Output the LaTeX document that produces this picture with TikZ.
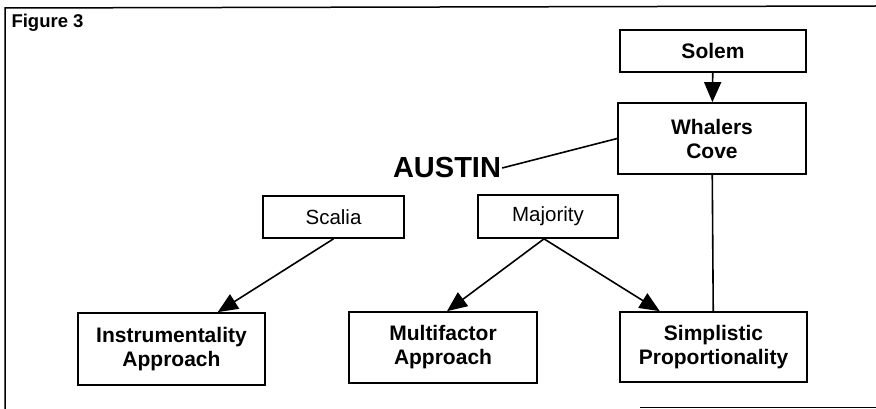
\documentclass[tikz,border=0pt]{standalone}
\usepackage{fontspec}
\setmainfont{Liberation Sans}
\usetikzlibrary{arrows.meta,positioning,calc}

\begin{document}
\begin{tikzpicture}[
  x=1pt, y=-1pt,
  box/.style={draw, line width=1.7pt, align=center, inner sep=0pt,
    font=\fontsize{21}{24}\selectfont\bfseries},
  judge/.style={draw, line width=1.7pt, align=center, inner sep=0pt,
    font=\fontsize{20.5}{23}\selectfont},
  arr/.style={-{Triangle[length=20pt,width=17pt]}, line width=1.6pt},
  link/.style={line width=1.6pt}
]
\useasboundingbox (0,0) rectangle (876,409);
% frame
\draw[line width=1.5pt] (876,6) -- (5,8) -- (5,409);
\draw[line width=1.2pt] (640,407.5) -- (876,407.5);
\node[anchor=west, font=\fontsize{18.5}{21}\selectfont\bfseries] (fig) at (8,23) {Figure 3};

\node[box, minimum width=186pt, minimum height=42pt] (solem) at (713,51) {Solem};
\node[box, minimum width=188pt, minimum height=71pt] (whalers) at (712,138.5) {Whalers\\Cove};
\node[font=\fontsize{29}{33}\selectfont\bfseries, inner sep=1pt] (austin) at (447,168) {AUSTIN};

\node[judge, minimum width=141pt, minimum height=42pt] (scalia) at (333.5,217) {Scalia};
\node[judge, minimum width=140pt, minimum height=43pt] (majority) at (548,216.5) {Majority};

\node[box, minimum width=187pt, minimum height=72pt] (instr) at (171.5,349) {Instrumentality\\Approach};
\node[box, minimum width=188pt, minimum height=71pt] (multi) at (443,347.5) {Multifactor\\Approach};
\node[box, minimum width=187pt, minimum height=70pt] (simpl) at (713.5,347) {Simplistic\\Proportionality};

\draw[arr] (solem) -- (whalers);
\draw[link] (austin.east) -- (whalers.west);
\draw[link] (whalers) -- (simpl);
\draw[arr] (scalia.south) -- ($(instr.north)!0.49!(instr.north east)$);
\draw[arr] ($(majority.south)+(-4,0)$) -- ($(multi.north)+(4,0)$);
\draw[arr] ($(majority.south)+(-4,0)$) -- ($(simpl.north)!0.57!(simpl.north west)$);
\end{tikzpicture}
\end{document}
